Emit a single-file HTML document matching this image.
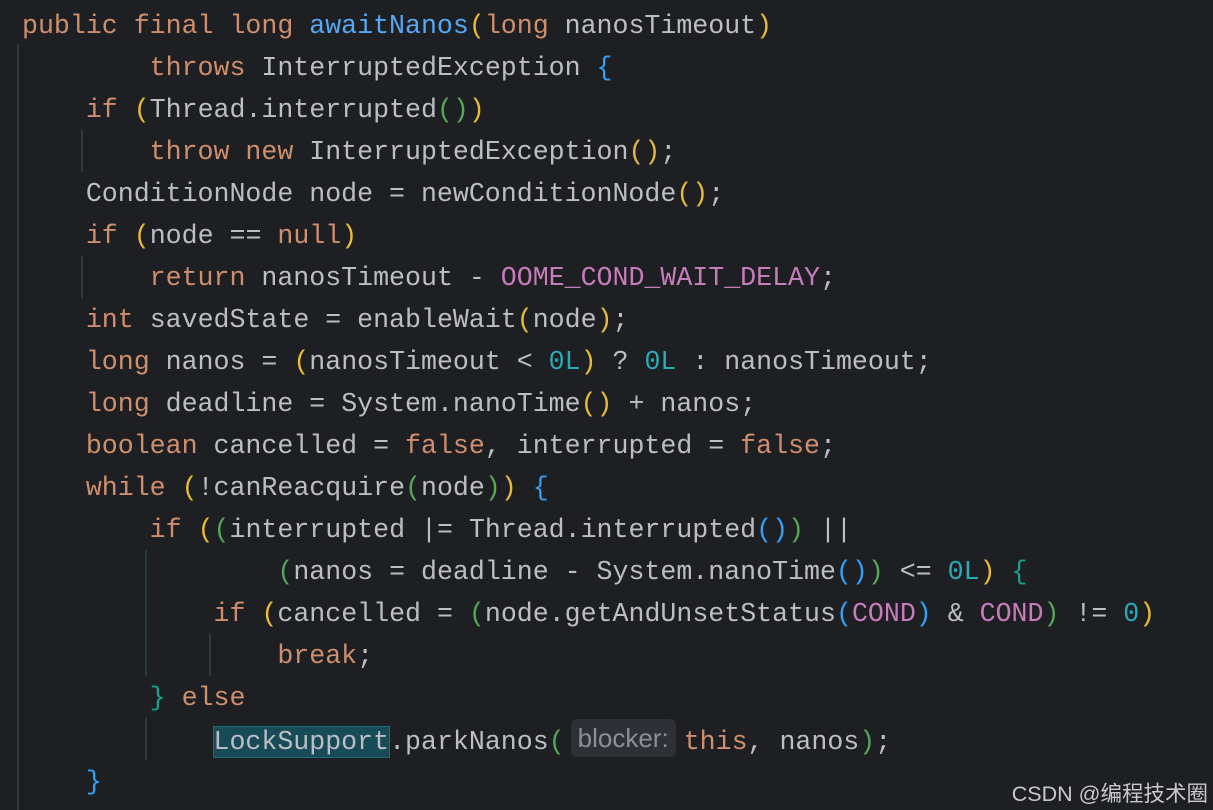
<!DOCTYPE html>
<html><head><meta charset="utf-8"><style>
body{margin:0;width:1213px;height:810px;background:#1e1f22;overflow:hidden;position:relative}
.l{position:absolute;left:22px;height:42px;line-height:42px;font-family:"Liberation Mono",monospace;font-size:26.6px;color:#bcbec4;white-space:pre}
.k{color:#cf8e6d}.m{color:#56a8f5}.c{color:#c77dbb}.n{color:#2aacb8}
.y{color:#e8ba36}.g{color:#54a857}.b{color:#359ff4}.t{color:#1a9f8f}
.gd{position:absolute;width:2px;background:#35373b}
.hl{background:#174b57;outline:1px solid #1f6a78}
.hint{display:inline-block;background:#2e3035;color:#8c8f94;font-family:"Liberation Sans",sans-serif;font-size:26px;line-height:38px;padding:0 7px;border-radius:6px;margin:0 8px 0 6px;vertical-align:2px}
.wm{position:absolute;right:5px;top:777px;font-family:"Liberation Sans","Noto Sans CJK SC",sans-serif;font-size:21.5px;color:#c8c9cc}
</style></head><body>
<div class="gd" style="left:17px;top:44px;height:766px"></div>
<div class="gd" style="left:81px;top:130px;height:42px"></div>
<div class="gd" style="left:81px;top:256px;height:42px"></div>
<div class="gd" style="left:145px;top:550px;height:126px;background:#243a30"></div>
<div class="gd" style="left:145px;top:718px;height:42px"></div>
<div class="gd" style="left:209px;top:634px;height:42px"></div>
<div class="l" style="top:5px"><span class="k">public final long </span><span class="m">awaitNanos</span><span class="y">(</span><span class="k">long </span>nanosTimeout<span class="y">)</span></div>
<div class="l" style="top:47px">        <span class="k">throws </span>InterruptedException <span class="b">{</span></div>
<div class="l" style="top:89px">    <span class="k">if </span><span class="y">(</span>Thread.interrupted<span class="g">()</span><span class="y">)</span></div>
<div class="l" style="top:131px">        <span class="k">throw new </span>InterruptedException<span class="y">()</span>;</div>
<div class="l" style="top:173px">    ConditionNode node = newConditionNode<span class="y">()</span>;</div>
<div class="l" style="top:215px">    <span class="k">if </span><span class="y">(</span>node == <span class="k">null</span><span class="y">)</span></div>
<div class="l" style="top:257px">        <span class="k">return </span>nanosTimeout - <span class="c">OOME_COND_WAIT_DELAY</span>;</div>
<div class="l" style="top:299px">    <span class="k">int </span>savedState = enableWait<span class="y">(</span>node<span class="y">)</span>;</div>
<div class="l" style="top:341px">    <span class="k">long </span>nanos = <span class="y">(</span>nanosTimeout &lt; <span class="n">0L</span><span class="y">)</span> ? <span class="n">0L</span> : nanosTimeout;</div>
<div class="l" style="top:383px">    <span class="k">long </span>deadline = System.nanoTime<span class="y">()</span> + nanos;</div>
<div class="l" style="top:425px">    <span class="k">boolean </span>cancelled = <span class="k">false</span>, interrupted = <span class="k">false</span>;</div>
<div class="l" style="top:467px">    <span class="k">while </span><span class="y">(</span>!canReacquire<span class="g">(</span>node<span class="g">)</span><span class="y">)</span> <span class="b">{</span></div>
<div class="l" style="top:509px">        <span class="k">if </span><span class="y">(</span><span class="g">(</span>interrupted |= Thread.interrupted<span class="b">()</span><span class="g">)</span> ||</div>
<div class="l" style="top:551px">                <span class="g">(</span>nanos = deadline - System.nanoTime<span class="b">()</span><span class="g">)</span> &lt;= <span class="n">0L</span><span class="y">)</span> <span class="t">{</span></div>
<div class="l" style="top:593px">            <span class="k">if </span><span class="y">(</span>cancelled = <span class="g">(</span>node.getAndUnsetStatus<span class="b">(</span><span class="c">COND</span><span class="b">)</span> &amp; <span class="c">COND</span><span class="g">)</span> != <span class="n">0</span><span class="y">)</span></div>
<div class="l" style="top:635px">                <span class="k">break</span>;</div>
<div class="l" style="top:677px">        <span class="t">}</span> <span class="k">else</span></div>
<div class="l" style="top:719px">            <span class="hl">LockSupport</span>.parkNanos<span class="g">(</span><span class="hint">blocker:</span><span class="k">this</span>, nanos<span class="g">)</span>;</div>
<div class="l" style="top:761px">    <span class="b">}</span></div>
<div class="wm">CSDN @编程技术圈</div>
</body></html>
